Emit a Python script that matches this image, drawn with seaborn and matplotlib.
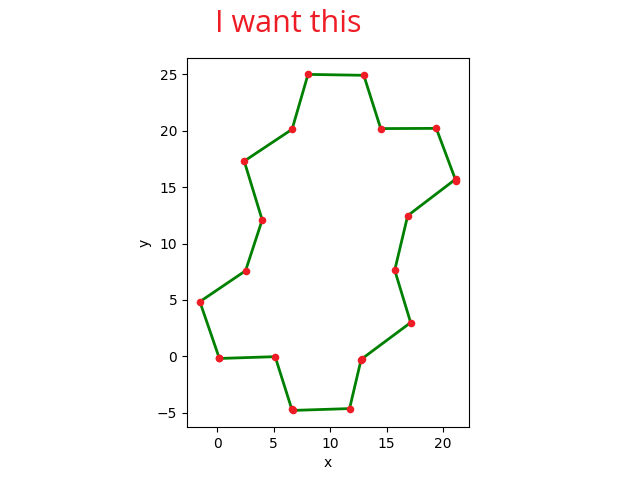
import numpy as np
import pandas as pd
import matplotlib
matplotlib.use("Agg")
import matplotlib.pyplot as plt
import seaborn as sns

# polygon vertices (closed back to the first one)
xs = [0.18, 5.12, 6.6, 6.72, 11.71, 12.72, 12.82, 17.12, 15.71, 16.86, 21.1, 21.15,
      19.39, 14.47, 12.97, 8.03, 6.62, 2.38, 3.97, 2.5, -1.55]
ys = [-0.18, -0.02, -4.7, -4.78, -4.62, -0.33, -0.2, 3.0, 7.64, 12.47, 15.7, 15.5,
      20.2, 20.18, 24.9, 24.98, 20.12, 17.3, 12.09, 7.59, 4.85]

df = pd.DataFrame({"x": xs + xs[:1], "y": ys + ys[:1]})

fig, ax = plt.subplots(figsize=(6.4, 4.8), dpi=100)
sns.lineplot(data=df, x="x", y="y", sort=False, estimator=None,
             color="green", linewidth=2, ax=ax)
sns.scatterplot(data=df, x="x", y="y", color="#ee1c24", s=30,
                edgecolor="#ee1c24", linewidth=0, zorder=3, ax=ax)
ax.set_aspect("equal")

fig.text(0.451, 0.934, "I want this", color="#ee1c24", fontsize=22,
         family=["Open Sans", "DejaVu Sans"], ha="center", va="baseline")

fig.savefig("out.png")
